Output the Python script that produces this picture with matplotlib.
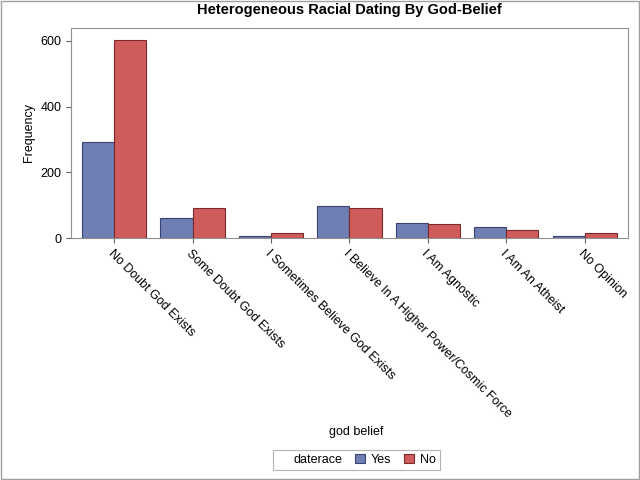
import numpy as np
import matplotlib.pyplot as plt
from matplotlib.patches import Rectangle

plt.rcParams['font.family'] = ['Liberation Sans', 'DejaVu Sans']

categories = ['No Doubt God Exists', 'Some Doubt God Exists', 'I Sometimes Believe God Exists',
              'I Believe In A Higher Power/Cosmic Force', 'I Am Agnostic', 'I Am An Atheist', 'No Opinion']
yes_vals = [292, 62, 6, 97, 47, 33, 6]
no_vals = [602, 92, 15, 92, 44, 26, 14]

fig = plt.figure(figsize=(6.4, 4.8), dpi=100)
fig.patches.append(Rectangle((0.002, 0.002), 0.996, 0.996, transform=fig.transFigure,
                             fill=False, edgecolor='#a0a0a0', lw=1))
ax = fig.add_axes([0.111, 0.504, 0.870, 0.438])
x = np.arange(len(categories))
w = 0.41
ax.bar(x - w / 2, yes_vals, w, color='#6F7EB3', edgecolor='#3a4470', lw=0.8, label='Yes')
ax.bar(x + w / 2, no_vals, w, color='#D05B5B', edgecolor='#7a2a2a', lw=0.8, label='No')
ax.set_xlim(-0.55, 6.55)
ax.set_ylim(0, 640)
ax.set_yticks([0, 200, 400, 600])
ax.set_xticks(x)
ax.set_xticklabels(categories, rotation=-45, ha='left', rotation_mode='anchor', fontsize=9)
ax.tick_params(labelsize=9, color='#606060')
for s in ax.spines.values():
    s.set_color('#909090')
ax.set_ylabel('Frequency', fontsize=9)
ax.set_title('Heterogeneous Racial Dating By God-Belief', fontsize=10.5, fontweight='bold', pad=10)
fig.text(0.557, 0.093, 'god belief', ha='center', fontsize=9)

blank = Rectangle((0, 0), 1, 1, fill=False, edgecolor='none')
h, l = ax.get_legend_handles_labels()
leg = fig.legend([blank] + h, ['daterace'] + l, loc='center', bbox_to_anchor=(0.557, 0.042),
                 ncol=3, fontsize=9, frameon=True, fancybox=False, edgecolor='#a0a0a0',
                 handlelength=0.8, handleheight=0.8, columnspacing=1.0, handletextpad=0.5,
                 borderpad=0.3)
leg.get_frame().set_linewidth(0.8)
plt.savefig('out.png')
